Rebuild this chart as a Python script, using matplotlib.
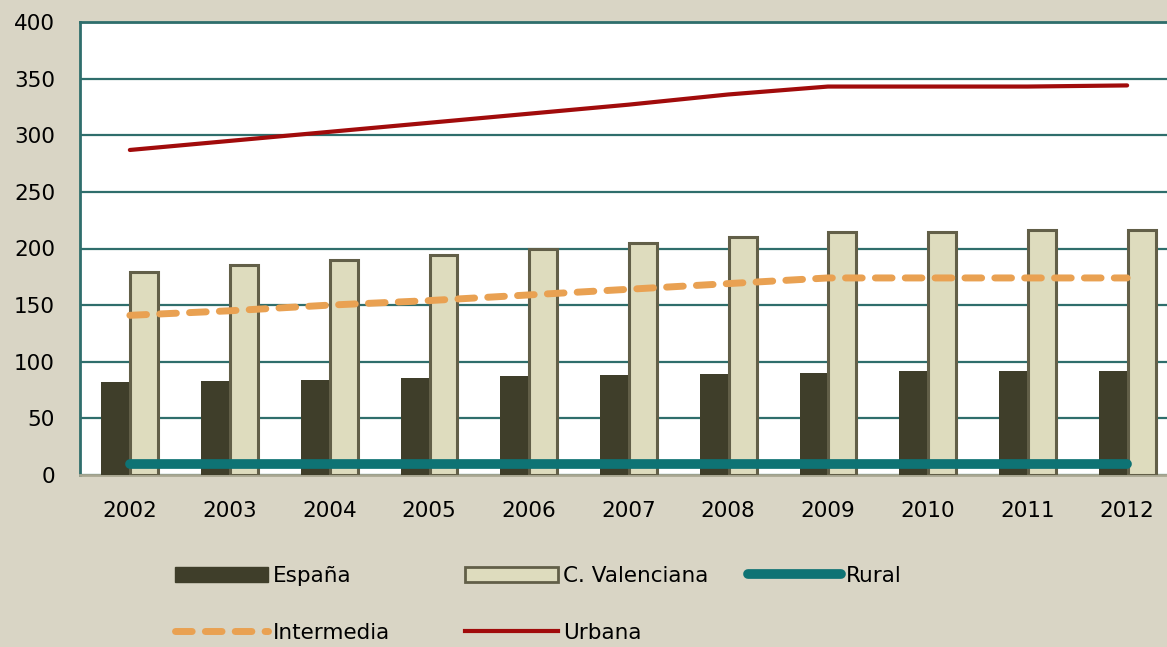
import matplotlib.pyplot as plt
import numpy as np
from matplotlib.lines import Line2D
from matplotlib.patches import Patch

# data
years = ['2002', '2003', '2004', '2005', '2006', '2007', '2008', '2009', '2010', '2011', '2012']
espana = [82, 83, 84, 86, 87, 88, 89, 90, 92, 92, 92]
valenciana = [179, 185, 190, 194, 200, 205, 210, 215, 215, 216, 216]
rural = [10, 10, 10, 10, 10, 10, 10, 10, 10, 10, 10]
intermedia = [141, 145, 150, 154, 159, 164, 169, 174, 174, 174, 174]
urbana = [287, 295, 303, 311, 319, 327, 336, 343, 343, 343, 344]

bg = '#D9D5C5'
grid_c = '#2F6E6C'
c_esp = '#3F3E2A'
c_val = '#DEDCBE'
c_val_edge = '#625F48'
c_rural = '#0E7374'
c_inter = '#E9A152'
c_urb = '#A10B0B'
dash = (0, (2.4, 1.9))

plt.rcParams['font.family'] = ['DejaVu Sans']
fig = plt.figure(figsize=(11.67, 6.47), dpi=100, facecolor=bg)
ax = fig.add_axes([80 / 1167, 1 - 475 / 647, 1097 / 1167, 453 / 647])
ax.set_facecolor('white')

x = np.arange(len(years))
w = 0.28
ax.bar(x - 0.145, espana, w, color=c_esp, zorder=3)
ax.bar(x + 0.145, valenciana, w, color=c_val, edgecolor=c_val_edge, linewidth=2.2, zorder=3)

ax.plot(x, rural, color=c_rural, lw=7, solid_capstyle='round', zorder=4)
ax.plot(x, intermedia, color=c_inter, lw=5, linestyle=dash,
        dash_capstyle='round', zorder=4)
ax.plot(x, urbana, color=c_urb, lw=3, solid_capstyle='round', zorder=4)

ax.set_xlim(-0.5, 10.5)
ax.set_ylim(0, 400)
ax.set_yticks(range(0, 401, 50))
ax.set_xticks(x)
ax.set_xticklabels(years)
ax.yaxis.grid(True, color=grid_c, lw=1.6, zorder=1)
ax.set_axisbelow(True)
ax.tick_params(axis='both', length=0, labelsize=15.5, colors='black')
ax.tick_params(axis='y', pad=18)
ax.tick_params(axis='x', pad=19)
ax.spines['right'].set_visible(False)
ax.spines['left'].set_color(grid_c)
ax.spines['left'].set_linewidth(2)
ax.spines['top'].set_color(grid_c)
ax.spines['top'].set_linewidth(2)
ax.spines['bottom'].set_color('#A9A792')
ax.spines['bottom'].set_linewidth(2)

# legend, laid out in three columns like the original
h_esp = Patch(facecolor=c_esp, edgecolor=c_esp)
h_val = Patch(facecolor=c_val, edgecolor=c_val_edge, linewidth=2)
h_rur = Line2D([], [], color=c_rural, lw=7, solid_capstyle='round')
h_int = Line2D([], [], color=c_inter, lw=5, linestyle=dash, dash_capstyle='round')
h_urb = Line2D([], [], color=c_urb, lw=3)

common = dict(frameon=False, fontsize=15.5, handlelength=4.3, handletextpad=0.25,
              labelspacing=1.7, borderpad=0, borderaxespad=0, loc='upper left')
top = 1 - 566 / 647
fig.legend([h_esp, h_int], ['España', 'Intermedia'],
           bbox_to_anchor=(175 / 1167, top), **common)
fig.legend([h_val, h_urb], ['C. Valenciana', 'Urbana'],
           bbox_to_anchor=(465 / 1167, top), **common)
fig.legend([h_rur], ['Rural'],
           bbox_to_anchor=(748 / 1167, top), **common)

fig.savefig('out.png', dpi=100, facecolor=bg)
